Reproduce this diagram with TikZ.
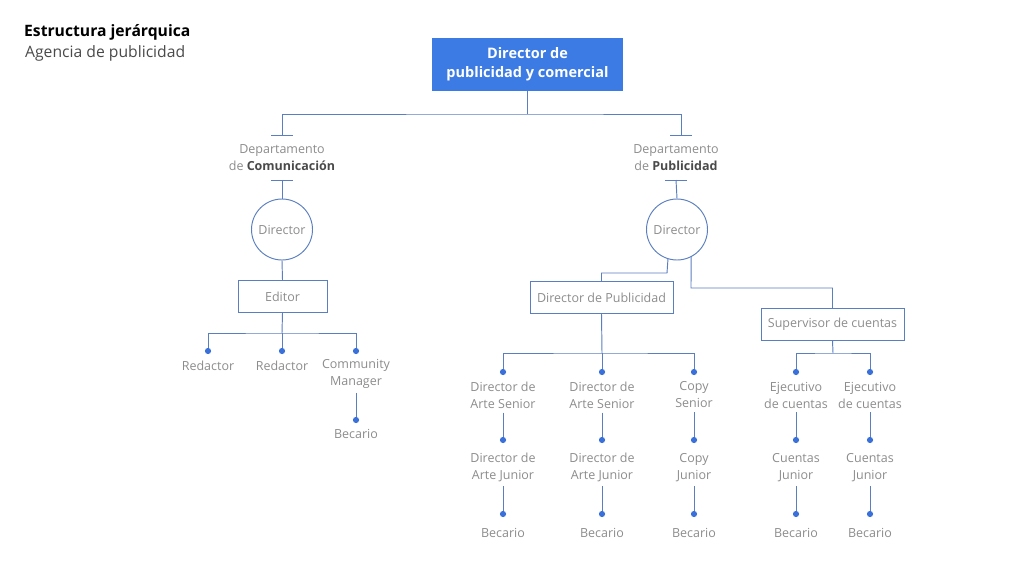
\documentclass[tikz,border=0pt]{standalone}
\usepackage{fontspec}
\setmainfont{Open Sans}
\definecolor{linec}{HTML}{5A7EC0}
\definecolor{dotc}{HTML}{3A70DA}
\definecolor{boxc}{HTML}{3C7AE4}
\definecolor{txtc}{HTML}{8C8C8C}
\definecolor{darkt}{HTML}{4A4A4A}
\begin{document}
\begin{tikzpicture}[x=1pt,y=-1pt,
  conn/.style={draw=linec,line width=0.95pt},
  lbl/.style={text=txtc,font=\fontsize{12.5}{17}\selectfont,align=center,inner xsep=0pt,inner ysep=4pt},
  rbox/.style={draw=linec,line width=0.95pt,text=txtc,font=\fontsize{12.5}{17}\selectfont,inner sep=0pt,minimum height=32pt},
  circ/.style={circle,draw=linec,line width=0.95pt,text=txtc,font=\fontsize{12.5}{17}\selectfont,minimum size=61pt,inner sep=0pt},
  dotp/.style={circle,fill=dotc,inner sep=0pt,minimum size=6.2pt}]
\useasboundingbox (0,0) rectangle (1024,575);
% titles
\node[anchor=west,inner sep=0pt,text=black,font=\fontsize{15.7}{19}\selectfont\bfseries] (t1) at (24,32) {Estructura jerárquica};
\node[anchor=west,inner sep=0pt,text=darkt,font=\fontsize{15.7}{19}\selectfont] (t2) at (25,53) {Agencia de publicidad};
% top box
\node[fill=boxc,text=white,font=\fontsize{14.5}{19}\selectfont\bfseries,align=center,minimum width=191pt,minimum height=53pt,inner sep=0pt] (top) at (527.5,64.5) {Director de\\publicidad y comercial};
% departments
\coordinate (tbL) at (282,135);
\coordinate (tbR) at (681,135);
\draw[conn] (top.south) -- (527.5,114) coordinate (hub) (tbL) |- (hub) -| (tbR);
\draw[conn] ([xshift=-11pt]tbL) -- ([xshift=11pt]tbL);
\draw[conn] ([xshift=-11pt]tbR) -- ([xshift=11pt]tbR);
\node[lbl] (depC) at (282,157.5) {Departamento\\de \textcolor{darkt}{\bfseries Comunicación}};
\node[lbl] (depP) at (676,157.5) {Departamento\\de \textcolor{darkt}{\bfseries Publicidad}};
\coordinate (tbL2) at (282,180);
\coordinate (tbR2) at (676,180);
\draw[conn] ([xshift=-11pt]tbL2) -- ([xshift=11pt]tbL2);
\draw[conn] ([xshift=-11pt]tbR2) -- ([xshift=11pt]tbR2);
% left branch
\node[circ] (dirC) at (282,229.5) {Director};
\draw[conn] (tbL2) -- (dirC.north);
\node[rbox,minimum width=89pt] (editor) at (282.5,296.5) {Editor};
\draw[conn] (dirC.south) -- (editor.north);
\node[dotp] (dR1) at (208,351) {};
\node[dotp] (dR2) at (282,351) {};
\node[dotp] (dCM) at (356,351) {};
\draw[conn] (editor.south) -- (282,333) coordinate (hubE);
\draw[conn] (dR1) |- (hubE) -| (dCM);
\draw[conn] (hubE) -- (dR2);
\node[lbl] (lR1) at (208,365.5) {Redactor};
\node[lbl] (lR2) at (282,365.5) {Redactor};
\node[lbl] (lCM) at (356,374) {Community\\Manager};
\node[dotp] (dB0) at (356,420) {};
\draw[conn] (lCM.south) -- (dB0);
\node[lbl] (lB0) at (356,433.5) {Becario};
% right branch
\node[circ] (dirP) at (677,229.5) {Director};
\draw[conn] (tbR2) -- (dirP.north);
\node[rbox,minimum width=143pt] (dpub) at (601.5,297.5) {Director de Publicidad};
\node[rbox,minimum width=143pt] (sup) at (832.5,324.5) {Supervisor de cuentas};
\draw[conn] (dirP.-107) -- (667,273) -| (dpub.north);
\draw[conn] (dirP.-63) -- (691,288) -| (sup.north);
% dots
\foreach \n/\x in {a/503,b/602,c/694,d/796,e/870}{
  \node[dotp] (d1\n) at (\x,372) {};
  \node[dotp] (d2\n) at (\x,440) {};
  \node[dotp] (d3\n) at (\x,514) {};
}
\draw[conn] (dpub.south) -- (602,353) coordinate (hubP);
\draw[conn] (d1a) |- (hubP) -| (d1c);
\draw[conn] (hubP) -- (d1b);
\draw[conn] (sup.south) -- (833,353) coordinate (hubS);
\draw[conn] (d1d) |- (hubS) -| (d1e);
% labels row 1
\node[lbl] (l1a) at (503,395) {Director de\\Arte Senior};
\node[lbl] (l1b) at (602,395) {Director de\\Arte Senior};
\node[lbl] (l1c) at (694,395) {Copy\\Senior};
\node[lbl] (l1d) at (796,395) {Ejecutivo\\de cuentas};
\node[lbl] (l1e) at (870,395) {Ejecutivo\\de cuentas};
% labels row 2
\node[lbl] (l2a) at (503,467.5) {Director de\\Arte Junior};
\node[lbl] (l2b) at (602,467.5) {Director de\\Arte Junior};
\node[lbl] (l2c) at (694,467.5) {Copy\\Junior};
\node[lbl] (l2d) at (796,467.5) {Cuentas\\Junior};
\node[lbl] (l2e) at (870,467.5) {Cuentas\\Junior};
% becarios
\foreach \n/\x in {a/503,b/602,c/694,d/796,e/870}{
  \node[lbl] (l3\n) at (\x,533) {Becario};
  \draw[conn] (l1\n.south) -- (d2\n);
  \draw[conn] (l2\n.south) -- (d3\n);
}
\end{tikzpicture}
\end{document}
